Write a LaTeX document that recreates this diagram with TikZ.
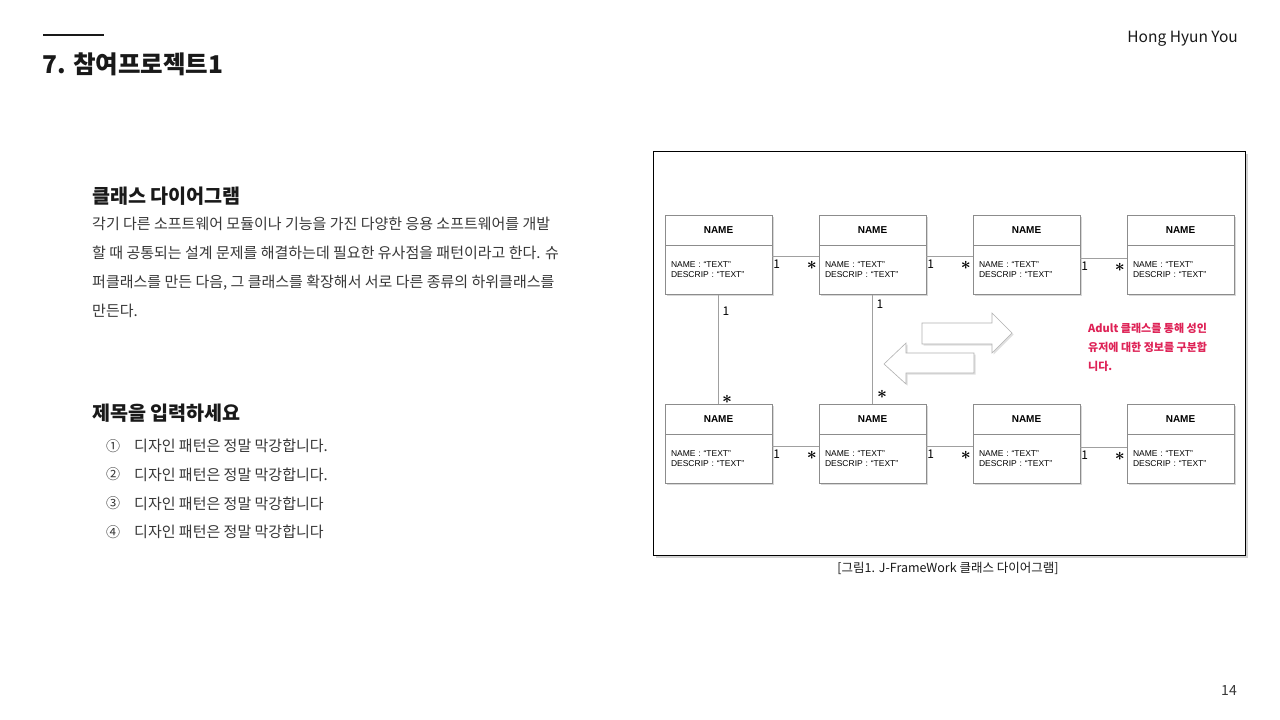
\documentclass[tikz,border=0pt]{standalone}
\usepackage{fontspec}
\setmainfont{Noto Sans CJK KR}
\newfontfamily\boxfont{Liberation Sans}
\usetikzlibrary{positioning,shadows}
\definecolor{SlideInk}{RGB}{25,25,25}
\definecolor{SlideGrey}{RGB}{55,55,55}
\definecolor{BoxGrey}{RGB}{140,140,140}
\definecolor{LinkGrey}{RGB}{160,160,160}
\definecolor{NoteRed}{RGB}{222,34,86}

\begin{document}
\begin{tikzpicture}[x=1pt, y=-1pt,
    clshead/.style={draw=BoxGrey, fill=white, minimum width=107pt, minimum height=30pt, inner sep=0pt,
      font=\boxfont\fontsize{10}{12}\selectfont\bfseries,
      drop shadow={opacity=0.3, shadow xshift=1.5pt, shadow yshift=-1.5pt}},
    clsattr/.style={draw=BoxGrey, fill=white, minimum width=107pt, minimum height=49pt, text width=95pt,
      inner xsep=6pt, align=left, font=\boxfont\fontsize{8.5}{10}\selectfont, below=0pt of #1,
      drop shadow={opacity=0.3, shadow xshift=1.5pt, shadow yshift=-1.5pt}},
    link/.style={draw=LinkGrey, line width=0.8pt},
    one/.style={at start, inner sep=0pt, font=\fontsize{12}{12}\selectfont, xshift=4.5pt, yshift=-8pt},
    many/.style={at end, inner sep=0pt, font=\fontsize{16}{16}\selectfont\boldmath, xshift=-7pt, yshift=-9.5pt},
    bigarrow/.style={draw=gray!60, fill=white, line width=0.6pt,
      drop shadow={opacity=0.25, shadow xshift=1.5pt, shadow yshift=-1.5pt}}]
  \useasboundingbox[fill=white] (0,0) rectangle (1280,720);

  % slide header
  \draw[line width=2pt, SlideInk] (43,35) -- (104,35);
  \node[anchor=west, inner sep=0pt, font=\fontsize{24.5}{24.5}\selectfont\bfseries, text=SlideInk] (title) at (42,64) {7. 참여프로젝트1};
  \node[anchor=east, inner sep=0pt, font=\fontsize{15.5}{15.5}\selectfont, text=SlideInk] (author) at (1238,39) {Hong Hyun You};
  \node[inner sep=0pt, font=\fontsize{14}{14}\selectfont, text=SlideGrey] (page) at (1229,691) {14};

  % left column
  \node[anchor=west, inner sep=0pt, font=\fontsize{19.6}{19.6}\selectfont\bfseries, text=SlideInk] (sub1) at (92,196) {클래스 다이어그램};
  \node[anchor=west, inner sep=0pt, align=left, font=\fontsize{15}{29}\selectfont, text=SlideGrey] (para) at (92,267.5)
    {각기 다른 소프트웨어 모듈이나 기능을 가진 다양한 응용 소프트웨어를 개발\\
     할 때 공통되는 설계 문제를 해결하는데 필요한 유사점을 패턴이라고 한다. 슈\\
     퍼클래스를 만든 다음, 그 클래스를 확장해서 서로 다른 종류의 하위클래스를\\
     만든다.};
  \node[anchor=west, inner sep=0pt, font=\fontsize{19.6}{19.6}\selectfont\bfseries, text=SlideInk] (sub2) at (92,413) {제목을 입력하세요};
  \node[inner sep=0pt, align=center, font=\fontsize{14}{28.7}\selectfont, text=SlideGrey] (nums) at (113,489) {①\\②\\③\\④};
  \node[anchor=west, inner sep=0pt, align=left, font=\fontsize{15}{28.7}\selectfont, text=SlideGrey] (items) at (134,489)
    {디자인 패턴은 정말 막강합니다.\\디자인 패턴은 정말 막강합니다.\\디자인 패턴은 정말 막강합니다\\디자인 패턴은 정말 막강합니다};

  % figure frame
  \node[draw=black, line width=1pt, fill=white, minimum width=592pt, minimum height=404pt, inner sep=0pt,
        drop shadow={opacity=0.35, shadow xshift=3pt, shadow yshift=-3pt}] (frame) at (949,353) {};
  \node[inner sep=0pt, font=\fontsize{12.5}{12.5}\selectfont, text=SlideInk] (caption) at (948,568) {[그림1. J-FrameWork 클래스 다이어그램]};

  % classes, top row
  \node[clshead] (c1) at (718.5,230) {NAME};
  \node[clsattr=c1] (c1a) {NAME : “TEXT”\\DESCRIP : “TEXT”};
  \node[clshead] (c2) at (872.5,230) {NAME};
  \node[clsattr=c2] (c2a) {NAME : “TEXT”\\DESCRIP : “TEXT”};
  \node[clshead] (c3) at (1026.5,230) {NAME};
  \node[clsattr=c3] (c3a) {NAME : “TEXT”\\DESCRIP : “TEXT”};
  \node[clshead] (c4) at (1180.5,230) {NAME};
  \node[clsattr=c4] (c4a) {NAME : “TEXT”\\DESCRIP : “TEXT”};
  % classes, bottom row
  \node[clshead] (c5) at (718.5,419) {NAME};
  \node[clsattr=c5] (c5a) {NAME : “TEXT”\\DESCRIP : “TEXT”};
  \node[clshead] (c6) at (872.5,419) {NAME};
  \node[clsattr=c6] (c6a) {NAME : “TEXT”\\DESCRIP : “TEXT”};
  \node[clshead] (c7) at (1026.5,419) {NAME};
  \node[clsattr=c7] (c7a) {NAME : “TEXT”\\DESCRIP : “TEXT”};
  \node[clshead] (c8) at (1180.5,419) {NAME};
  \node[clsattr=c8] (c8a) {NAME : “TEXT”\\DESCRIP : “TEXT”};

  % associations
  \draw[link] ([yshift=-11pt]c1a.north east) -- node[one]{1} node[many]{$\ast$} ([yshift=-11pt]c2a.north west);
  \draw[link] ([yshift=-11pt]c2a.north east) -- node[one]{1} node[many]{$\ast$} ([yshift=-11pt]c3a.north west);
  \draw[link] ([yshift=-13pt]c3a.north east) -- node[one]{1} node[many]{$\ast$} ([yshift=-13pt]c4a.north west);
  \draw[link] ([yshift=-12pt]c5a.north east) -- node[one]{1} node[many]{$\ast$} ([yshift=-12pt]c6a.north west);
  \draw[link] ([yshift=-12pt]c6a.north east) -- node[one]{1} node[many]{$\ast$} ([yshift=-12pt]c7a.north west);
  \draw[link] ([yshift=-13pt]c7a.north east) -- node[one]{1} node[many]{$\ast$} ([yshift=-13pt]c8a.north west);
  \draw[link] (c1a.south) -- node[one, xshift=3pt, yshift=-9pt]{1} node[many, xshift=15.5pt, yshift=13.5pt]{$\ast$} (c5.north);
  \draw[link] (c2a.south) -- node[one, xshift=3pt, yshift=-2pt]{1} node[many, xshift=16.5pt, yshift=18.5pt]{$\ast$} (c6.north);

  % hollow arrows
  \draw[bigarrow] (922,323) -- (992,323) -- (992,313) -- (1012,333) -- (992,353) -- (992,344) -- (922,344) -- cycle;
  \draw[bigarrow] (884,364) -- (906,343) -- (906,353) -- (974,353) -- (974,373) -- (906,373) -- (906,384) -- cycle;

  % note
  \node[anchor=west, inner sep=0pt, align=left, font=\fontsize{11}{19}\selectfont\bfseries, text=NoteRed] (note) at (1088,347)
    {Adult 클래스를 통해 성인\\유저에 대한 정보를 구분합\\니다.};
\end{tikzpicture}
\end{document}
